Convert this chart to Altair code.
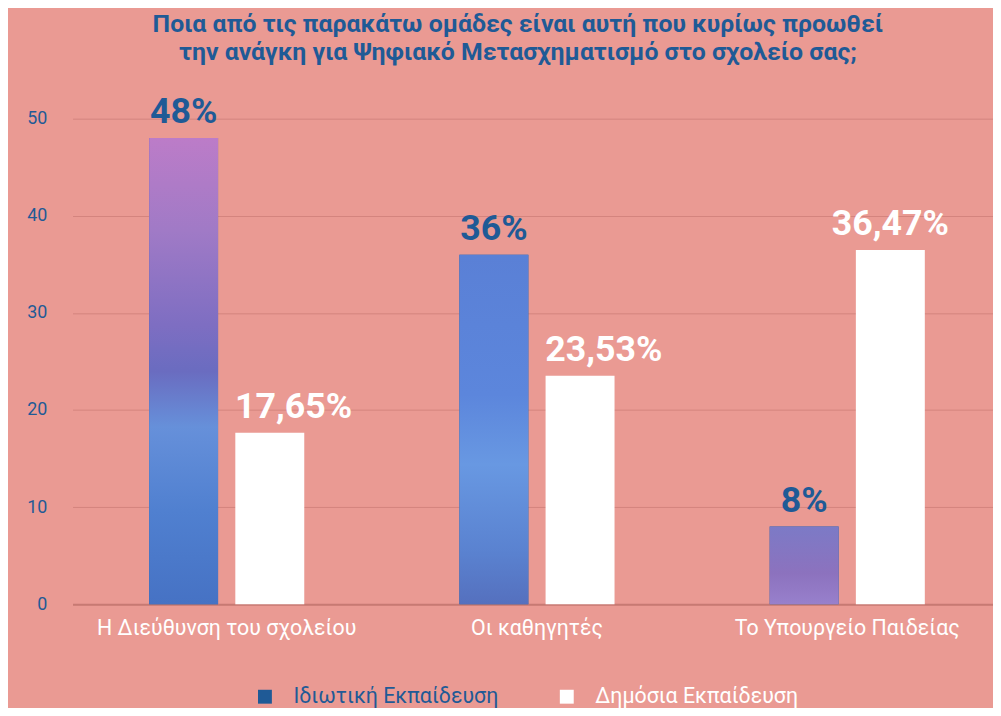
import altair as alt
import pandas as pd

categories = ["Η Διεύθυνση του σχολείου", "Οι καθηγητές", "Το Υπουργείο Παιδείας"]
series = ["Ιδιωτική Εκπαίδευση", "Δημόσια Εκπαίδευση"]
private_vals = [48, 36, 8]
public_vals = [17.65, 23.53, 36.47]
y_ticks = [0, 10, 20, 30, 40, 50]
title_lines = [
    "Ποια από τις παρακάτω ομάδες είναι αυτή που κυρίως προωθεί",
    "την ανάγκη για Ψηφιακό Μετασχηματισμό στο σχολείο σας;",
]

def fmt(v):
    return f"{v:g}".replace(".", ",") + "%"

rows = []
for c, a, b in zip(categories, private_vals, public_vals):
    rows.append({"category": c, "series": series[0], "value": a, "label": fmt(a)})
    rows.append({"category": c, "series": series[1], "value": b, "label": fmt(b)})
df = pd.DataFrame(rows)

BG = "#EA9A93"
DARK = "#1F5A96"

x_enc = alt.X("category:N", sort=categories, title=None,
              scale=alt.Scale(paddingInner=0.5, paddingOuter=0.2333, align=0.529),
              axis=alt.Axis(labelColor="white", labelFontSize=21.5, labelFont="Roboto",
                            labelPadding=13, ticks=False, grid=False, labelLimit=0,
                            domainColor="#C77A73", domainWidth=2, labelAngle=0))
xo_enc = alt.XOffset("series:N", sort=series,
                     scale=alt.Scale(domain=series, paddingInner=0.2, paddingOuter=0))
y_enc = alt.Y("value:Q", title=None,
              scale=alt.Scale(domain=[0, 50], nice=False),
              axis=alt.Axis(values=y_ticks, labelColor=DARK, labelFontSize=18,
                            labelFont="Roboto", labelPadding=26, ticks=False,
                            domain=False, gridColor="#D4847E", gridWidth=1))
color_enc = alt.Color("series:N", sort=series,
                      scale=alt.Scale(domain=series, range=[DARK, "white"]),
                      legend=alt.Legend(orient="none", legendX=183, legendY=571,
                                        direction="horizontal", title=None,
                                        symbolType="square", symbolSize=196,
                                        symbolStrokeWidth=0, labelFontSize=21.5,
                                        labelFont="Roboto", columnPadding=58,
                                        labelOffset=18, labelLimit=0,
                                        labelColor=alt.ExprRef(expr="datum.label == 'Δημόσια Εκπαίδευση' ? 'white' : '" + DARK + "'")))

base = alt.Chart(df)

bars = base.mark_bar().encode(x=x_enc, xOffset=xo_enc, y=y_enc, color=color_enc)

gradients = {
    categories[0]: [("#BC7CC8", 0), ("#A07AC6", 0.2), ("#7E6EC2", 0.4), ("#6A6CC0", 0.5),
                    ("#6690DA", 0.62), ("#5080D0", 0.8), ("#4672C4", 1)],
    categories[1]: [("#5A80D6", 0), ("#5C86DC", 0.4), ("#6898E2", 0.6), ("#5A82D0", 0.85),
                    ("#5570BE", 1)],
    categories[2]: [("#7C7AC6", 0), ("#8C72BE", 0.6), ("#9880CC", 1)],
}

layers = [bars]
for cat in categories:
    g = alt.Gradient(gradient="linear", x1=0, x2=0, y1=0, y2=1,
                     stops=[alt.GradientStop(color=c, offset=o) for c, o in gradients[cat]])
    layers.append(
        base.transform_filter(
            (alt.datum.category == cat) & (alt.datum.series == series[0])
        ).mark_bar(fill=g).encode(x=x_enc, xOffset=xo_enc, y=y_enc)
    )

text_style = dict(baseline="bottom", dy=-7, fontSize=36, fontWeight="bold", font="Roboto")
# labels centred over the bar
text_center = base.transform_filter(
    (alt.datum.series == series[0]) | (alt.datum.category == categories[2])
).mark_text(**text_style).encode(
    x=x_enc, xOffset=xo_enc, y=y_enc, text="label:N", color=color_enc)
# wide labels that start at the bar's left edge
text_left = base.transform_filter(
    (alt.datum.series == series[1]) & (alt.datum.category != categories[2])
).mark_text(align="left", dx=-35, **text_style).encode(
    x=x_enc, xOffset=xo_enc, y=y_enc, text="label:N", color=color_enc)
layers += [text_center, text_left]

chart = alt.layer(*layers).properties(
    width=927, height=489,
    background=BG,
    padding={"left": 65, "top": 109, "right": 0, "bottom": 102},
    autosize=alt.AutoSizeParams(type="none"),
    title=alt.TitleParams(text=title_lines, font="Roboto", fontSize=25, fontWeight="bold",
                          color=DARK, anchor="middle", offset=30, lineHeight=28, dx=-15),
).configure_view(stroke=None)

chart.save("out.html", embed_options={"renderer": "svg", "actions": False})
